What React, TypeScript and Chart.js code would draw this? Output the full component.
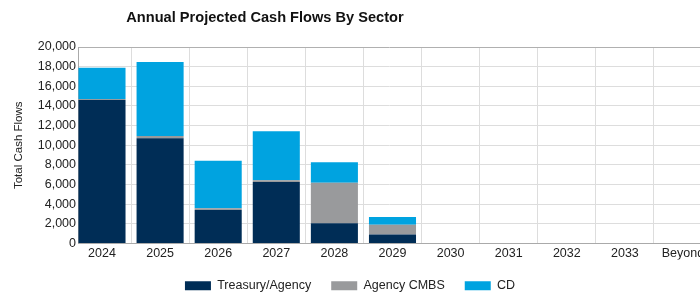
import React, { useEffect, useRef } from "react";
import { Chart, registerables } from "chart.js";

Chart.register(...registerables);

const chartTitle = "Annual Projected Cash Flows By Sector";
const yAxisTitle = "Total Cash Flows";
const xLabels = ["2024", "2025", "2026", "2027", "2028", "2029", "2030", "2031", "2032", "2033", "Beyond"];
const treasuryAgency = [14600, 10700, 3400, 6250, 2050, 920, 0, 0, 0, 0, 0];
const agencyCmbs = [100, 250, 200, 200, 4140, 980, 0, 0, 0, 0, 0];
const cd = [3190, 7520, 4830, 4980, 2080, 790, 0, 0, 0, 0, 0];
const yTicks = [0, 2000, 4000, 6000, 8000, 10000, 12000, 14000, 16000, 18000, 20000];

const seriesNames = ["Treasury/Agency", "Agency CMBS", "CD"];
const seriesColors = ["#002d56", "#999a9c", "#00a3e0"];

const FONT = "'Liberation Sans', Arial, Helvetica, sans-serif";

export default function App() {
  const canvasRef = useRef<HTMLCanvasElement | null>(null);

  useEffect(() => {
    if (!canvasRef.current) return;
    const series = [treasuryAgency, agencyCmbs, cd];
    const chart = new Chart(canvasRef.current, {
      type: "bar",
      data: {
        datasets: series.map((vals, k) => ({
          label: seriesNames[k],
          data: vals.map((y, i) => ({ x: i, y })),
          backgroundColor: seriesColors[k],
          borderWidth: 0,
          categoryPercentage: 1,
          barPercentage: 0.81,
        })),
      },
      options: {
        responsive: false,
        animation: false,
        layout: { padding: { top: 47, left: 0, right: 0, bottom: -5 } },
        plugins: {
          title: { display: false },
          tooltip: { enabled: false },
          legend: {
            position: "bottom",
            labels: {
              boxWidth: 26,
              boxHeight: 9,
              padding: 20,
              color: "#222",
              font: { family: FONT, size: 12.5 },
            },
          },
        },
        scales: {
          x: {
            type: "linear",
            min: -0.413,
            max: 10.293,
            stacked: true,
            offset: false,
            grid: { color: "#dddddd", drawTicks: false, lineWidth: 1 },
            border: { color: "#aaaaaa" },
            ticks: {
              stepSize: 1,
              includeBounds: false,
              autoSkip: false,
              maxRotation: 0,
              padding: 3,
              color: "#222",
              font: { family: FONT, size: 12.5 },
              callback: (v: any) => xLabels[v as number] ?? "",
            },
            afterFit: (s: any) => {
              s.paddingLeft = 0;
              s.paddingRight = 0;
              s.height = s.height - 5;
            },
          },
          y: {
            stacked: true,
            min: yTicks[0],
            max: yTicks[yTicks.length - 1],
            grid: {
              drawTicks: false,
              color: (ctx: any) => (ctx.tick && ctx.tick.value === 20000 ? "#b0b0b0" : "#dddddd"),
            },
            border: { color: "#aaaaaa" },
            ticks: {
              stepSize: 2000,
              padding: 2,
              color: "#222",
              font: { family: FONT, size: 12.5 },
              callback: (v: any) => Number(v).toLocaleString("en-US"),
            },
            title: {
              display: true,
              text: yAxisTitle,
              color: "#222",
              font: { family: FONT, size: 11.5 },
              padding: { top: 11.6, bottom: 0 },
            },
            afterFit: (s: any) => {
              s.width = 78;
            },
          },
        },
      },
    });
    return () => chart.destroy();
  }, []);

  return (
    <div style={{ position: "absolute", left: 0, top: 0, width: 700, height: 297, overflow: "hidden", background: "#fff" }}>
      <div
        style={{
          position: "absolute",
          left: 0,
          top: 8,
          width: 530,
          textAlign: "center",
          fontFamily: FONT,
          fontWeight: "bold",
          fontSize: 14.6,
          lineHeight: "18px",
          color: "#111",
        }}
      >
        {chartTitle}
      </div>
      <canvas ref={canvasRef} width={700} height={297} style={{ display: "block", width: 700, height: 297 }} />
    </div>
  );
}
